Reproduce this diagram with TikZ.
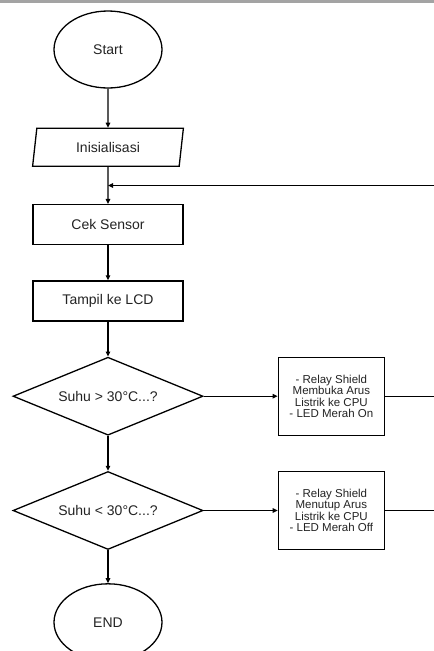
\documentclass[tikz,border=0pt]{standalone}
\usepackage{fontspec}
\setmainfont{Liberation Sans}
\usepackage{tikz}
\usetikzlibrary{positioning, arrows.meta}
\usetikzlibrary{shapes.geometric}
\usepackage{color}
\definecolor{bar_gray}{RGB}{163,163,163}
\definecolor{text_gray}{RGB}{35,35,35}

\tikzset{
	flow_arrow/.style={line width=1.2pt, -{Triangle[length=5pt, width=4.5pt]}},
	flow_line/.style={line width=1.2pt},
	terminal/.style={draw, ellipse, line width=1.3pt, minimum width=108pt, minimum height=77pt, text=text_gray, font=\fontsize{14}{16}\selectfont},
	io_box/.style={draw, trapezium, trapezium left angle=83, trapezium right angle=97, trapezium stretches=true, line width=1.3pt, minimum width=152pt, minimum height=38pt, text=text_gray, font=\fontsize{14}{16}\selectfont},
	process/.style={draw, rectangle, line width=1.3pt, minimum width=150pt, minimum height=40pt, text=text_gray, font=\fontsize{14}{16}\selectfont},
	decision/.style={draw, diamond, aspect=2.4, inner sep=0pt, line width=1.3pt, minimum width=190pt, minimum height=78pt, text=text_gray, font=\fontsize{14}{16}\selectfont},
	action/.style={draw, rectangle, line width=1.4pt, minimum width=106pt, minimum height=78pt, align=center, text=text_gray, font=\fontsize{11.5}{11.5}\selectfont}
}

\begin{document}
\begin{tikzpicture}[x=1pt, y=-1pt]
			\useasboundingbox (0,0) rectangle (434,651);
			\fill [bar_gray] (0,0) rectangle (434,3.3);
			\coordinate (edge) at (434,0);

			% --- Begin Main Column ---
			\node [terminal] (start) at (108,49.5) {Start};
			\node [io_box, below=39pt of start] (init) {Inisialisasi};
			\node [process, below=37pt of init] (cek_sensor) {Cek Sensor};
			\node [process, below=35pt of cek_sensor] (tampil_lcd) {Tampil ke LCD};
			\node [decision, below=35pt of tampil_lcd] (suhu_high) {Suhu > 30°C...?};
			\node [decision, below=35pt of suhu_high] (suhu_low) {Suhu < 30°C...?};
			\node [terminal, below=33pt of suhu_low] (end) {END};
			% --- End Main Column ---

			% --- Begin Relay Nodes ---
			\node [action, right=74pt of suhu_high] (relay_on) {
				- Relay Shield \\
				Membuka Arus \\
				Listrik ke CPU \\
				- LED Merah On
			};
			\node [action, right=74pt of suhu_low] (relay_off) {
				- Relay Shield \\
				Menutup Arus \\
				Listrik ke CPU \\
				- LED Merah Off
			};
			% --- End Relay Nodes ---

			% Point where the loop comes back in.
			\coordinate (loop_in) at ([yshift=-18.5pt]init.south);

			\draw [flow_arrow] (start) -- (init);
			\draw [flow_arrow] (init) -- (cek_sensor);
			\draw [flow_arrow] (cek_sensor) -- (tampil_lcd);
			\draw [flow_arrow] (tampil_lcd) -- (suhu_high);
			\draw [flow_arrow] (suhu_high) -- (suhu_low);
			\draw [flow_arrow] (suhu_low) -- (end);
			\draw [flow_arrow] (suhu_high) -- (relay_on);
			\draw [flow_arrow] (suhu_low) -- (relay_off);
			\draw [flow_line] (relay_on.east) -- (relay_on.east -| edge);
			\draw [flow_line] (relay_off.east) -- (relay_off.east -| edge);
			\draw [flow_arrow] (loop_in -| edge) -- (loop_in);
		\end{tikzpicture}
\end{document}
